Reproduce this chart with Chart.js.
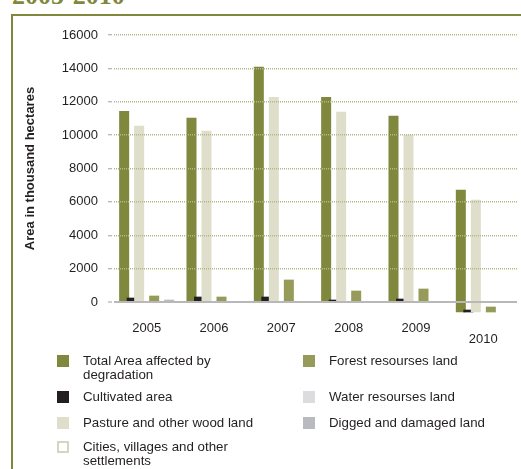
<!DOCTYPE html>
<html>
<head>
<meta charset="utf-8">
<script src="https://cdn.jsdelivr.net/npm/chart.js@4/dist/chart.umd.min.js"></script>
<style>
  body { margin: 0; width: 521px; height: 469px; overflow: hidden; background: #fff; position: relative; font-family: "Liberation Sans", Arial, sans-serif; }
  #titulo { position: absolute; left: 12px; top: -17px; font: bold 26px/26px "Liberation Serif", serif; color: #7f883d; white-space: nowrap; }
  #marco { position: absolute; left: 11px; top: 14px; width: 600px; height: 600px; border: 2px solid #7f883d; box-sizing: border-box; z-index: 5; pointer-events: none; }
  #wrap { position: absolute; left: 11px; top: 0; width: 510px; height: 360px; }
  .item { position: absolute; font-size: 13.3px; line-height: 14px; color: #231f20; }
  .caja { position: absolute; left: 0; top: 0; width: 12px; height: 12px; box-sizing: border-box; }
  .txt { position: absolute; left: 26px; top: -1px; white-space: pre; }
</style>
</head>
<body>
<div id="titulo">2005-2010</div>
<div id="wrap"><canvas id="grafico"></canvas></div>
<div id="leyenda"></div>
<div id="marco"></div>
<script>
// datos (miles de hectareas)
const years = ['2005', '2006', '2007', '2008', '2009', '2010'];
// en el original la columna 2010 arranca por debajo del cero
const baseline = [0, 0, 0, 0, 0, -620];
const totalArea = [11450, 11040, 14090, 12290, 11160, 7350];
const cultivated = [260, 320, 320, 140, 200, 160];
const pasture = [10560, 10260, 12290, 11400, 10020, 6750];
const cities = [0, 0, 0, 0, 0, 0];
const forest = [380, 320, 1340, 680, 800, 340];
const water = [0, 0, 0, 0, 0, 0];
const digged = [140, 30, 30, 30, 30, 0];
const yTicks = [0, 2000, 4000, 6000, 8000, 10000, 12000, 14000, 16000];

const seriesNames = [
  'Total Area affected by\ndegradation',
  'Cultivated area',
  'Pasture and other wood land',
  'Cities, villages and other\nsettlements',
  'Forest resourses land',
  'Water resourses land',
  'Digged and damaged land'
];
const seriesValues = [totalArea, cultivated, pasture, cities, forest, water, digged];
const colores = ['#7f883d', '#231f20', '#dfdecb', '#ffffff', '#979b59', '#dcdcde', '#b9babf'];
const bordes = [null, null, null, '#d6d6c0', null, null, null];

const datasets = seriesValues.map((vals, i) => ({
  label: seriesNames[i],
  data: vals.map((v, j) => [baseline[j], baseline[j] + v]),
  backgroundColor: colores[i],
  borderWidth: 0,
  categoryPercentage: 0.78,
  barPercentage: 1.333,
  clip: false
}));

// dibuja las series de izquierda a derecha (la de la derecha queda encima)
const ordenDibujo = {
  id: 'ordenDibujo',
  beforeDatasetsDraw(chart) {
    chart.getSortedVisibleDatasetMetas().forEach(m => m.controller.draw());
    return false;
  }
};

const olivo = '#b2b88a';

new Chart(document.getElementById('grafico'), {
  type: 'bar',
  data: {
    labels: years.map((y, i) => i === years.length - 1 ? ['', y] : y),
    datasets: datasets
  },
  plugins: [ordenDibujo],
  options: {
    responsive: true,
    maintainAspectRatio: false,
    animation: false,
    layout: { padding: { top: 35, right: 4, left: 0, bottom: 0 } },
    plugins: {
      legend: { display: false },
      tooltip: { enabled: false }
    },
    scales: {
      x: {
        grid: { display: false },
        border: { display: false },
        ticks: {
          padding: 13,
          color: '#231f20',
          font: { family: 'Liberation Sans', size: 13, lineHeight: 0.85 }
        },
        afterFit: s => { s.height = 58; }
      },
      y: {
        min: 0,
        max: 16000,
        afterBuildTicks: s => { s.ticks = yTicks.map(v => ({ value: v })); },
        grid: {
          z: 1,
          color: ctx => ctx.tick && ctx.tick.value === 0 ? '#b8b8b8' : olivo,
          lineWidth: ctx => ctx.tick && ctx.tick.value === 0 ? 2 : 1.5,
          tickColor: '#a0a0a0',
          tickWidth: 1,
          tickLength: 5
        },
        border: {
          display: true,
          color: '#a6a6a6',
          width: 2,
          dash: ctx => ctx.tick && ctx.tick.value === 0 ? [] : [1, 1]
        },
        ticks: {
          padding: 10,
          color: '#231f20',
          font: { family: 'Liberation Sans', size: 13 },
          callback: v => String(v)
        },
        title: {
          display: true,
          text: 'Area in thousand hectares',
          color: '#231f20',
          padding: { top: 12, bottom: 0 },
          font: { family: 'Liberation Sans', size: 13, weight: 'bold' }
        },
        afterFit: s => { s.width = 102; }
      }
    }
  }
});

// leyenda en dos columnas
const leyenda = document.getElementById('leyenda');
const filas = [355, 391, 417, 441];
seriesNames.forEach((name, i) => {
  const col = i < 4 ? 0 : 1;
  const fila = i < 4 ? i : i - 4;
  const item = document.createElement('div');
  item.className = 'item';
  item.style.left = (col === 0 ? 57 : 303) + 'px';
  item.style.top = filas[fila] + 'px';
  const caja = document.createElement('div');
  caja.className = 'caja';
  caja.style.background = colores[i];
  if (bordes[i]) caja.style.border = '2px solid ' + bordes[i];
  const txt = document.createElement('div');
  txt.className = 'txt';
  txt.textContent = name;
  item.appendChild(caja);
  item.appendChild(txt);
  leyenda.appendChild(item);
});
</script>
</body>
</html>
